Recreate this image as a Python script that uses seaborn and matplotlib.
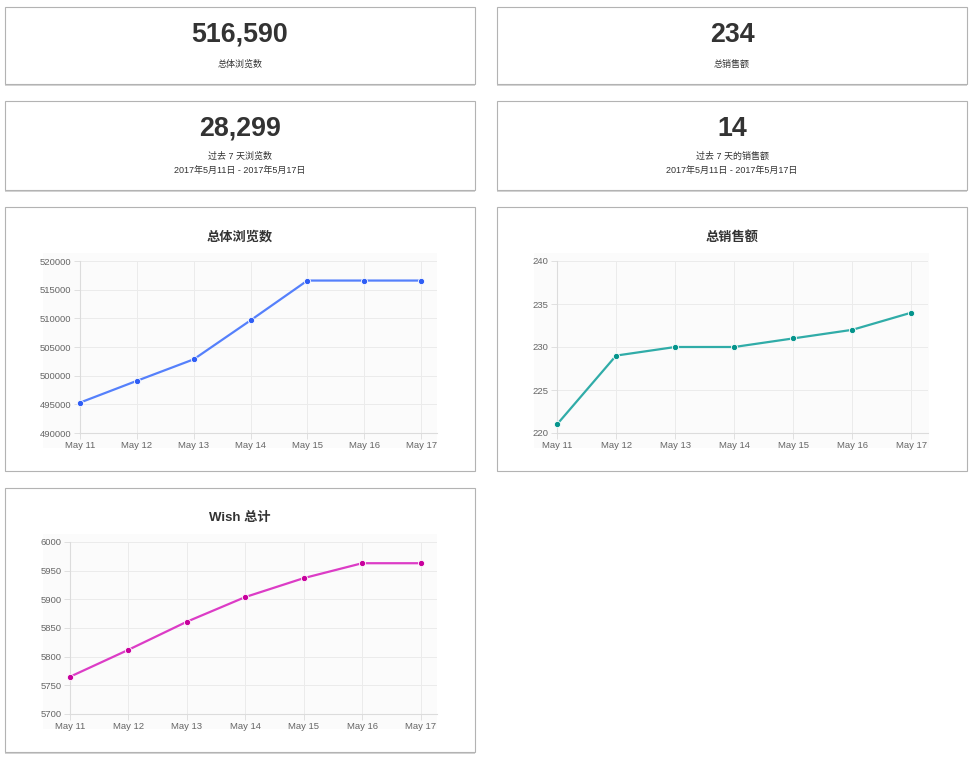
from matplotlib import pyplot as plt
from matplotlib.patches import Rectangle
import pandas as pd
import seaborn as sns

days = ["May 11", "May 12", "May 13", "May 14", "May 15", "May 16", "May 17"]
views = [495300, 499100, 502850, 509650, 516590, 516590, 516590]
sales = [221, 229, 230, 230, 231, 232, 234]
wish = [5765, 5812, 5861, 5904, 5937, 5963, 5963]

kpi_values = ["516,590", "234", "28,299", "14"]
kpi_labels = ["总体浏览数", "总销售额", "过去 7 天浏览数", "过去 7 天的销售额"]
date_range = "2017年5月11日 - 2017年5月17日"
chart_titles = ["总体浏览数", "总销售额", "Wish 总计"]

sns.set_style("white")
plt.rcParams['font.family'] = ['Liberation Sans', 'Noto Sans CJK SC', 'DejaVu Sans']

W, H = 975, 772
fig = plt.figure(figsize=(W / 100, H / 100), dpi=100)
fig.patch.set_facecolor('white')


def rect(x0, y0, x1, y1):
    return [x0 / W, 1 - y1 / H, (x1 - x0) / W, (y1 - y0) / H]


def card(x0, y0, x1, y1):
    b = rect(x0, y0 + 1.5, x1, y1 + 1.5)
    fig.patches.append(Rectangle((b[0], b[1]), b[2], b[3], transform=fig.transFigure,
                                 facecolor='#d4d4d4', edgecolor='none', zorder=-12))
    b = rect(x0, y0, x1, y1)
    fig.patches.append(Rectangle((b[0], b[1]), b[2], b[3], transform=fig.transFigure,
                                 facecolor='white', edgecolor='#b3b3b3', lw=0.8, zorder=-11))


def canvas(x0, y0, x1, y1):
    b = rect(x0, y0, x1, y1)
    fig.patches.append(Rectangle((b[0], b[1]), b[2], b[3], transform=fig.transFigure,
                                 facecolor='#fbfbfb', edgecolor='none', zorder=-10))


def text(x, y, s, **kw):
    fig.text(x / W, 1 - y / H, s, ha='center', va='center', color='#333333', **kw)


# KPI cards
lx, rx = 240, 732
card(5, 7, 475, 84)
card(497, 7, 967, 84)
card(5, 101, 475, 190)
card(497, 101, 967, 190)

text(lx, 35, kpi_values[0], fontsize=19.3, fontweight='bold')
text(lx, 64, kpi_labels[0], fontsize=6.5)
text(rx, 35, kpi_values[1], fontsize=19.3, fontweight='bold')
text(rx, 64, kpi_labels[1], fontsize=6.5)
text(lx, 129, kpi_values[2], fontsize=19.3, fontweight='bold')
text(lx, 156, kpi_labels[2], fontsize=6.5)
text(lx, 170, date_range, fontsize=6.5)
text(rx, 129, kpi_values[3], fontsize=19.3, fontweight='bold')
text(rx, 156, kpi_labels[3], fontsize=6.5)
text(rx, 170, date_range, fontsize=6.5)

# chart cards
card(5, 207, 475, 471)
card(497, 207, 967, 471)
card(5, 488, 475, 752)


def chart(values, title, plot_box, bg_box, title_pos, ylim, yticks, line_c, dot_c):
    canvas(*bg_box)
    text(title_pos[0], title_pos[1], title, fontsize=9.5, fontweight='bold')
    ax = fig.add_axes(rect(*plot_box))
    ax.set_facecolor('none')
    df = pd.DataFrame({"day": range(len(days)), "value": values})
    sns.lineplot(data=df, x="day", y="value", ax=ax, color=line_c, lw=1.6,
                 marker='o', markersize=4.5, markerfacecolor=dot_c,
                 markeredgecolor='white', markeredgewidth=0.6, clip_on=False, zorder=5)
    ax.set_xlim(0, 6.28)
    ax.set_ylim(*ylim)
    ax.set_xticks(range(len(days)))
    ax.set_xticklabels(days)
    ax.set_yticks(yticks)
    ax.set_yticklabels([str(v) for v in yticks])
    ax.set_xlabel("")
    ax.set_ylabel("")
    ax.grid(True, color='#ebebeb', lw=0.7)
    ax.tick_params(axis='both', colors='#e0e0e0', labelcolor='#666666',
                   labelsize=6.8, length=4.5, width=0.7, pad=1.5,
                   left=True, bottom=True)
    for side in ['top', 'right']:
        ax.spines[side].set_visible(False)
    for side in ['left', 'bottom']:
        ax.spines[side].set_color('#dcdcdc')
        ax.spines[side].set_linewidth(0.8)
    return ax


chart(views, chart_titles[0], (80, 261, 437, 433), (43, 253, 437, 448), (240, 237),
      (490000, 520000), list(range(490000, 520001, 5000)), '#5580fb', '#2f5ef5')
chart(sales, chart_titles[1], (557, 261, 928, 433), (534, 253, 929, 448), (732, 237),
      (220, 240), list(range(220, 241, 5)), '#30aca8', '#05948c')
chart(wish, chart_titles[2], (70, 542, 437, 714), (43, 534, 437, 729), (240, 518),
      (5700, 6000), list(range(5700, 6001, 50)), '#dc3cc6', '#c8009d')

fig.savefig('out.png', dpi=100)
